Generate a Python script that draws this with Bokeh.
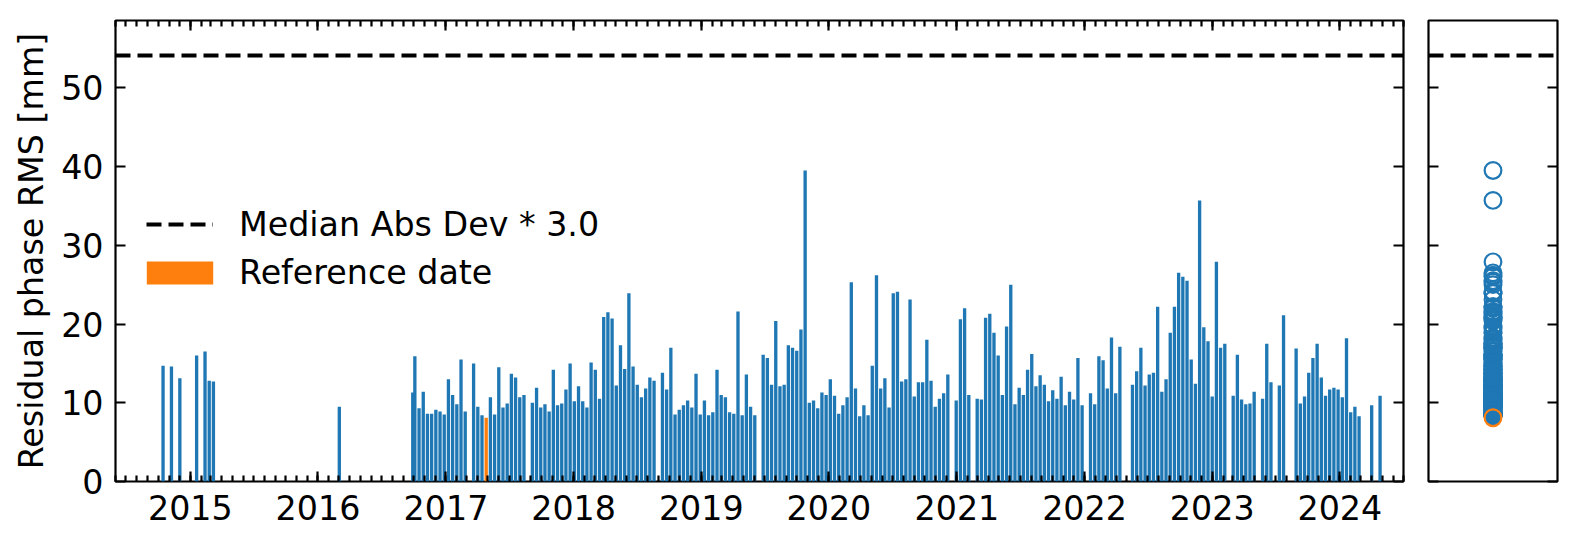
import pandas as pd
from bokeh.plotting import figure
from bokeh.layouts import row
from bokeh.models import (Range1d, FactorRange, LinearAxis, DatetimeAxis, FixedTicker,
                          DatetimeTickFormatter, Legend, LegendItem, ColumnDataSource)
from bokeh.embed import file_html
from bokeh.resources import INLINE

# ---------------- data ----------------
REF_DATE = "2017-04-26"          # reference acquisition (orange)
MAD_LIMIT = [54.1]               # Median Abs Dev * 3.0 threshold [mm]

# acquisition dates, given as day offsets from REF_DATE
ACQ_OFFSETS = [
    -924, -900, -876, -828, -804, -792, -780, -420,
    -210, -204, -192, -180, -168, -156, -144, -132, -120, -108, -96, -84, -72, -60, -36, -24, -12, 0,
    12, 24, 36, 48, 60, 72, 84, 96, 108,
    132, 144, 156, 168, 180, 192, 204, 216, 228, 240,
    252, 264, 276, 288, 300, 312, 324, 336, 348, 360,
    372, 384, 396, 408, 420, 432, 444, 456, 468, 480,
    504, 516, 528, 540, 552, 564, 576, 588, 600, 612,
    624, 636, 648, 660, 672, 684, 696, 708, 720, 732,
    744, 756, 768,
    792, 804, 816, 828, 840, 852, 864, 876, 888, 900,
    912, 924, 936, 948, 960, 972, 984, 996, 1008, 1020,
    1032, 1044, 1056, 1068, 1080, 1092, 1104, 1116, 1128, 1140,
    1152, 1164, 1176, 1188, 1200, 1212, 1224, 1236, 1248, 1260,
    1272, 1284, 1296, 1308, 1320,
    1344, 1356, 1368, 1380,
    1404, 1416, 1428, 1440, 1452, 1464, 1476, 1488, 1500, 1512,
    1524, 1536, 1548, 1560, 1572, 1584, 1596, 1608, 1620, 1632,
    1644, 1656, 1668, 1680, 1692, 1704,
    1728, 1740, 1752, 1764, 1776, 1788, 1800, 1812,
    1848, 1860, 1872, 1884, 1896, 1908, 1920, 1932, 1944, 1956,
    1968, 1980, 1992, 2004, 2016, 2028, 2040, 2052, 2064, 2076,
    2088, 2100, 2112,
    2136, 2148, 2160, 2172, 2184, 2196,
    2220, 2232, 2244,
    2268, 2280,
    2316, 2328, 2340, 2352, 2364, 2376, 2388, 2400, 2412, 2424,
    2436, 2448, 2460, 2472, 2484, 2496,
    2532,
    2556,
]

# residual phase RMS [mm], one per acquisition
RMS_MM = [
    14.7, 14.6, 13.1, 16.0, 16.5, 12.8, 12.7, 9.5,
    11.3, 15.9, 9.3, 11.4, 8.6, 8.6, 9.1, 8.9, 8.5, 13.0, 11.0, 9.8, 15.5, 8.9, 15.0, 9.5, 8.4, 8.1,
    10.7, 8.5, 14.5, 9.4, 9.9, 13.7, 13.2, 10.7, 11.0,
    10.0, 11.9, 9.4, 9.8, 8.9, 14.2, 9.7, 9.9, 11.7, 15.0,
    10.2, 12.1, 10.2, 9.4, 15.1, 14.2, 10.5, 20.9, 21.5, 20.7,
    12.2, 17.3, 14.3, 23.9, 14.6, 12.3, 10.7, 11.8, 13.2, 12.8,
    13.8, 11.7, 17.0, 8.5, 9.1, 9.7, 10.3, 9.4, 13.7, 8.5,
    10.3, 8.4, 8.8, 14.2, 11.0, 10.7, 8.8, 8.6, 21.6, 8.4,
    13.6, 9.5, 8.4,
    16.1, 15.7, 12.3, 20.4, 12.1, 12.3, 17.3, 17.0, 16.6, 19.3,
    39.5, 10.0, 10.3, 9.3, 11.3, 11.0, 13.0, 10.9, 8.6, 9.7,
    10.7, 25.3, 11.8, 8.3, 9.7, 8.4, 14.7, 26.2, 11.8, 13.1,
    9.4, 23.9, 24.1, 12.7, 13.0, 23.1, 10.8, 12.6, 12.6, 18.0,
    12.8, 9.5, 10.5, 11.2, 13.6,
    10.3, 20.6, 22.0, 11.0,
    10.5, 10.4, 20.8, 21.3, 18.9, 16.0, 11.0, 19.7, 25.0, 9.8,
    11.9, 11.0, 14.2, 16.2, 12.1, 13.5, 12.3, 10.2, 11.6, 10.5,
    13.3, 9.7, 11.4, 10.4, 15.7, 9.7,
    11.2, 9.8, 15.9, 15.4, 11.8, 18.3, 11.2, 17.1,
    12.3, 14.0, 17.0, 12.2, 13.6, 13.8, 22.2, 11.4, 13.0, 18.9,
    22.2, 26.5, 26.0, 25.5, 15.5, 12.4, 35.7, 19.6, 17.8, 10.8,
    27.9, 17.0, 17.5,
    10.9, 16.1, 10.4, 9.8, 9.9, 11.4,
    10.5, 17.5, 12.6,
    12.2, 21.1,
    16.9, 9.9, 10.8, 13.8, 15.7, 17.5, 13.2, 10.9, 11.7, 11.9,
    11.7, 10.7, 18.2, 8.8, 9.5, 8.3,
    9.7,
    10.9,
]

YEAR_TICKS = [2015, 2016, 2017, 2018, 2019, 2020, 2021, 2022, 2023, 2024]
Y_TICKS = [0, 10, 20, 30, 40, 50]
X_START, X_END = "2014-06-01", "2024-07-01"
Y_MAX = 58.55

LEGEND_LABELS = ["Median Abs Dev * 3.0", "Reference date"]

# ---------------- styling ----------------
BLUE, ORANGE = "#1f77b4", "#ff7f0e"
FONT = "DejaVu Sans"
FS = "33.3px"
AX_LW = 2.2
BAR_WIDTH_MS = 9.5 * 24 * 3600 * 1000
DASH = "15 7"

ref = pd.Timestamp(REF_DATE)
dates = ref + pd.to_timedelta(ACQ_OFFSETS, unit="D")
df = pd.DataFrame({"date": dates, "rms": RMS_MM})
is_ref = df["date"] == ref
df_main = df[~is_ref]
df_ref = df[is_ref]

src_main = ColumnDataSource(df_main)
src_ref = ColumnDataSource(df_ref)
src_lim = ColumnDataSource(dict(y=MAD_LIMIT))

year_ms = [pd.Timestamp(f"{y}-01-01").value // 10**6 for y in YEAR_TICKS]
month_ms = [t.value // 10**6 for t in pd.date_range(X_START, X_END, freq="MS")]
xticker = FixedTicker(ticks=year_ms, minor_ticks=month_ms)
yticker = FixedTicker(ticks=Y_TICKS)
yfmt = "%Y"
xformatter = DatetimeTickFormatter(years=yfmt, months=yfmt, days=yfmt, hours=yfmt,
                                   hourmin=yfmt, minutes=yfmt, minsec=yfmt,
                                   seconds=yfmt, milliseconds=yfmt, microseconds=yfmt)


def style_ticks(ax, minor=True):
    ax.axis_line_color = None
    ax.major_tick_in = 10
    ax.major_tick_out = 0
    ax.major_tick_line_width = AX_LW
    ax.major_tick_line_color = "black"
    if minor:
        ax.minor_tick_in = 6
        ax.minor_tick_out = 0
        ax.minor_tick_line_width = AX_LW
        ax.minor_tick_line_color = "black"
    else:
        ax.minor_tick_line_color = None
    ax.major_label_text_font = FONT
    ax.major_label_text_font_size = FS
    ax.major_label_text_color = "black"
    ax.major_label_standoff = 13


def hide_labels(ax):
    # tick marks only: labels are not drawn at all
    ax.major_label_text_color = None
    ax.major_label_text_font_size = "1px"
    ax.major_label_standoff = 0


# ---------------- main panel ----------------
p = figure(x_axis_type="datetime",
           x_range=Range1d(pd.Timestamp(X_START), pd.Timestamp(X_END)),
           y_range=Range1d(0, Y_MAX),
           frame_width=1288, frame_height=461,
           min_border_left=115, min_border_right=12, min_border_top=20, min_border_bottom=58,
           output_backend="svg", toolbar_location=None)
p.xgrid.visible = False
p.ygrid.visible = False
p.outline_line_color = "black"
p.outline_line_width = AX_LW
p.background_fill_color = "white"
p.border_fill_color = "white"

xa = p.xaxis[0]
xa.ticker = xticker
xa.formatter = xformatter
style_ticks(xa)

ya = p.yaxis[0]
ya.ticker = yticker
style_ticks(ya, minor=False)
ya.major_label_standoff = 12
ya.axis_label = "Residual phase RMS [mm]"
ya.axis_label_text_font = FONT
ya.axis_label_text_font_size = FS
ya.axis_label_text_font_style = "normal"
ya.axis_label_text_color = "black"
ya.axis_label_standoff = 7

top_ax = DatetimeAxis(ticker=xticker, formatter=xformatter)
style_ticks(top_ax)
hide_labels(top_ax)
p.add_layout(top_ax, "above")

right_ax = LinearAxis(ticker=yticker)
style_ticks(right_ax, minor=False)
hide_labels(right_ax)
p.add_layout(right_ax, "right")

p.vbar(x="date", top="rms", bottom=0, width=BAR_WIDTH_MS, source=src_main,
       fill_color=BLUE, line_color=None)
ref_bar = p.vbar(x="date", top="rms", bottom=0, width=BAR_WIDTH_MS, source=src_ref,
                 fill_color=ORANGE, line_color=None)

lim_r = p.hspan(y="y", source=src_lim, line_color="black", line_width=4, line_dash=DASH)

leg_a = Legend(items=[LegendItem(label=LEGEND_LABELS[0], renderers=[lim_r])],
               location=(31, 237), border_line_color=None, background_fill_alpha=0,
               padding=0, margin=0, glyph_width=67, glyph_height=24, label_height=40,
               label_standoff=26, label_text_font=FONT, label_text_font_size=FS,
               label_text_color="black")
leg_b = Legend(items=[LegendItem(label=LEGEND_LABELS[1], renderers=[ref_bar])],
               location=(23, 189), border_line_color=None, background_fill_alpha=0,
               padding=0, margin=0, glyph_width=83, glyph_height=29, label_height=40,
               label_standoff=18, label_text_font=FONT, label_text_font_size=FS,
               label_text_color="black")
p.add_layout(leg_a)
p.add_layout(leg_b)

# ---------------- side panel (distribution) ----------------
p2 = figure(x_range=FactorRange(factors=["all"]), y_range=Range1d(0, Y_MAX),
            frame_width=129, frame_height=461,
            min_border_left=13, min_border_right=6, min_border_top=20, min_border_bottom=58,
            output_backend="svg", toolbar_location=None)
p2.xgrid.visible = False
p2.ygrid.visible = False
p2.outline_line_color = "black"
p2.outline_line_width = AX_LW
p2.xaxis.visible = False
ya2 = p2.yaxis[0]
ya2.ticker = yticker
style_ticks(ya2, minor=False)
hide_labels(ya2)
ra2 = LinearAxis(ticker=yticker)
style_ticks(ra2, minor=False)
hide_labels(ra2)
p2.add_layout(ra2, "right")

side_main = ColumnDataSource(dict(cat=["all"] * len(df_main), rms=list(df_main["rms"])))
side_ref = ColumnDataSource(dict(cat=["all"] * len(df_ref), rms=list(df_ref["rms"])))
p2.scatter(x="cat", y="rms", source=side_main, size=16.7, fill_color=None,
           line_color=BLUE, line_width=2.2)
p2.scatter(x="cat", y="rms", source=side_ref, size=16.7, fill_color=None,
           line_color=ORANGE, line_width=2.2)
p2.hspan(y="y", source=src_lim, line_color="black", line_width=4, line_dash=DASH)

layout = row(p, p2)
open("out.html", "w").write(file_html(layout, INLINE))
